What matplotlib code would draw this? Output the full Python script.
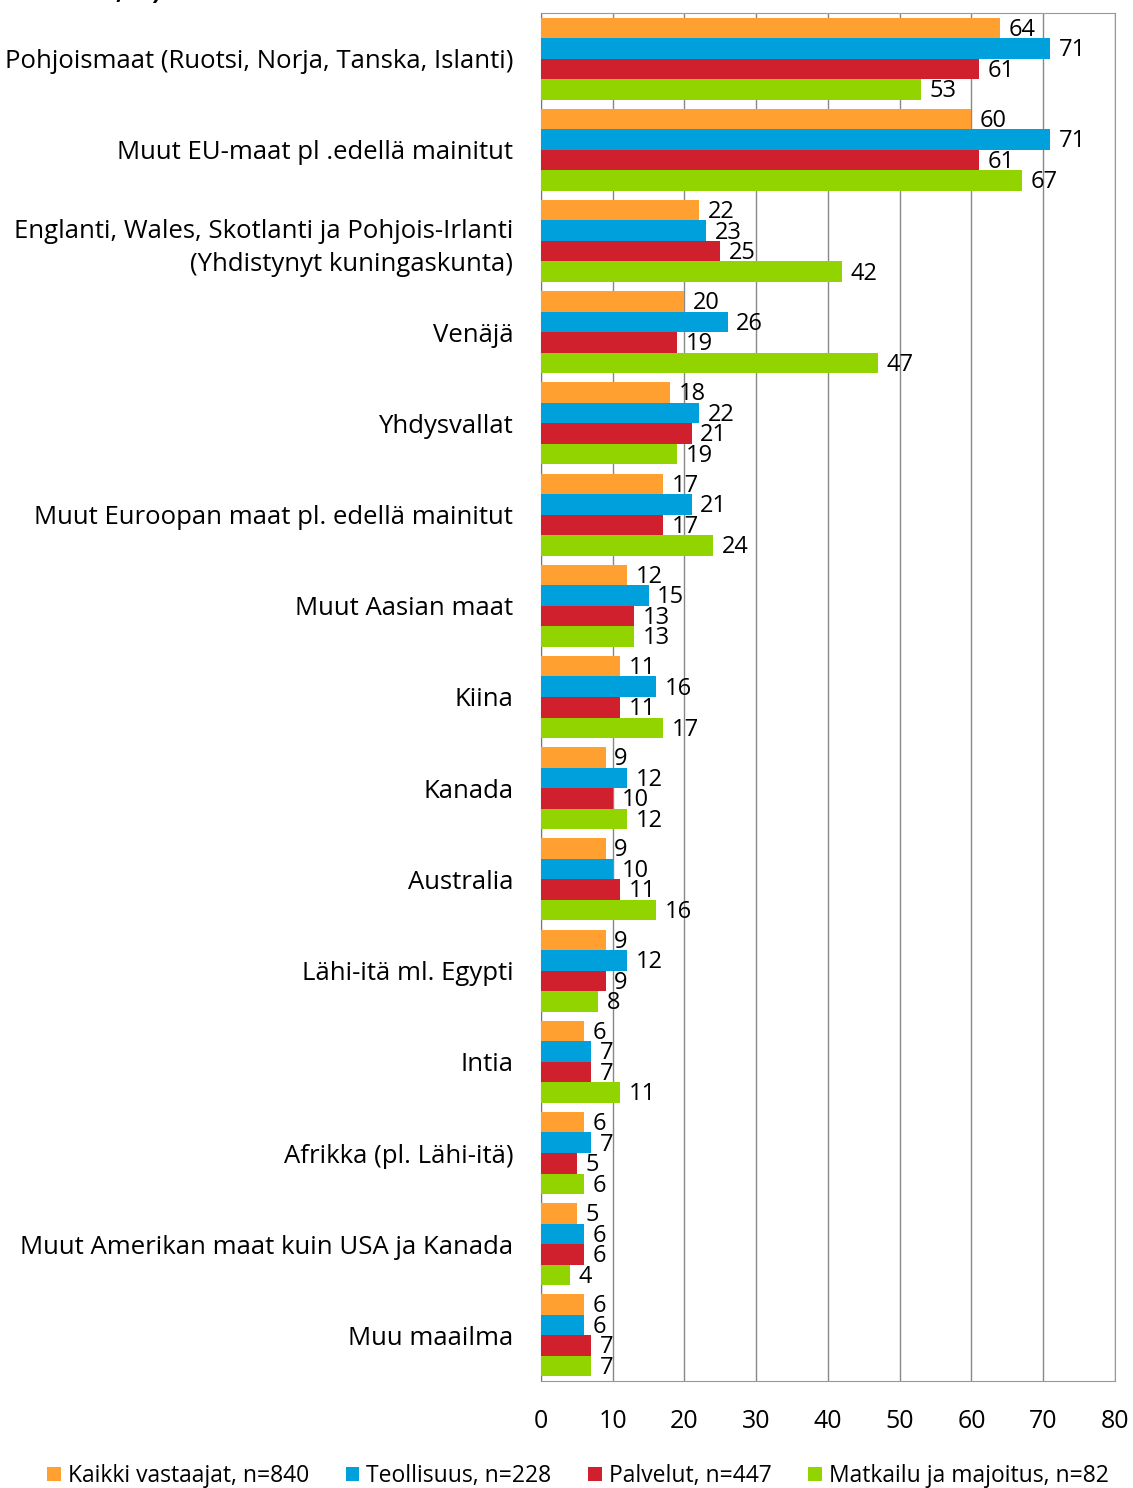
import numpy as np
import matplotlib.pyplot as plt

plt.rcParams['font.family'] = ['Open Sans', 'DejaVu Sans']

categories = [
    "Pohjoismaat (Ruotsi, Norja, Tanska, Islanti)",
    "Muut EU-maat pl .edellä mainitut",
    "Englanti, Wales, Skotlanti ja Pohjois-Irlanti\n(Yhdistynyt kuningaskunta)",
    "Venäjä",
    "Yhdysvallat",
    "Muut Euroopan maat pl. edellä mainitut",
    "Muut Aasian maat",
    "Kiina",
    "Kanada",
    "Australia",
    "Lähi-itä ml. Egypti",
    "Intia",
    "Afrikka (pl. Lähi-itä)",
    "Muut Amerikan maat kuin USA ja Kanada",
    "Muu maailma",
]
kaikki = [64, 60, 22, 20, 18, 17, 12, 11, 9, 9, 9, 6, 6, 5, 6]
teollisuus = [71, 71, 23, 26, 22, 21, 15, 16, 12, 10, 12, 7, 7, 6, 6]
palvelut = [61, 61, 25, 19, 21, 17, 13, 11, 10, 11, 9, 7, 5, 6, 7]
matkailu = [53, 67, 42, 47, 19, 24, 13, 17, 12, 16, 8, 11, 6, 4, 7]
series_names = ["Kaikki vastaajat, n=840", "Teollisuus, n=228",
                "Palvelut, n=447", "Matkailu ja majoitus, n=82"]
colors = ["#FFA030", "#00A0DC", "#D0202E", "#92D400"]

fig = plt.figure(figsize=(11.33, 14.88), dpi=100)
ax = fig.add_axes([0.4775, 0.0719, 0.5065, 0.9194])

n = len(categories)
y = np.arange(n)
h = 0.225
series = [kaikki, teollisuus, palvelut, matkailu]
for i, (vals, c, name) in enumerate(zip(series, colors, series_names)):
    pos = y - 1.5 * h + i * h
    ax.barh(pos, vals, height=h, color=c, label=name, zorder=3)
    for p, v in zip(pos, vals):
        ax.text(v + 1.2, p + 0.02, str(v), va='center', ha='left',
                fontsize=17, zorder=4)

ax.set_ylim(n - 0.5, -0.5)
ax.set_xlim(0, 80)
ax.set_xticks(range(0, 81, 10))
ax.set_yticks(y)
ax.set_yticklabels(categories, fontsize=18.5, linespacing=1.4)
ax.tick_params(axis='both', length=0)
ax.tick_params(axis='y', pad=20)
ax.tick_params(axis='x', labelsize=18, pad=20)
ax.grid(axis='x', color='#888888', linewidth=1, zorder=0)
for s in ax.spines.values():
    s.set_color('#999999')
ax.spines['left'].set_color('#777777')

handles, labels = ax.get_legend_handles_labels()
fig.legend(handles, labels, loc='lower center', ncol=4, bbox_to_anchor=(0.51, -0.014),
           frameon=False, fontsize=16.5, handlelength=0.6, handleheight=0.6,
           handletextpad=0.3, columnspacing=1.6)

fig.text(0.0, 1.005, "ikomailla, %)", fontsize=18, fontweight='bold',
         ha='left', va='center')

fig.savefig("out.png", dpi=100)
